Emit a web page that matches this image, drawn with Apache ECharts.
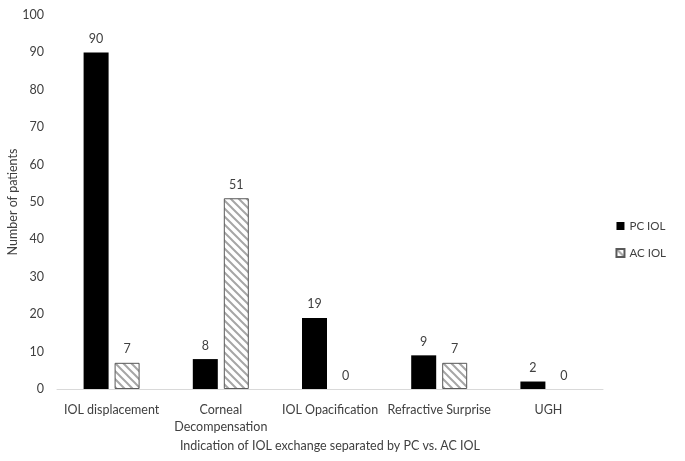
<!DOCTYPE html>
<html>
<head>
<meta charset="utf-8">
<script src="https://cdn.jsdelivr.net/npm/echarts@6/dist/echarts.min.js"></script>
<style>
  html, body { margin: 0; padding: 0; background: #fff; }
  #chart { width: 685px; height: 461px; }
</style>
</head>
<body>
<div id="chart"></div>
<script>
// categories and values
var categories = ['IOL displacement', 'Corneal\nDecompensation', 'IOL Opacification', 'Refractive Surprise', 'UGH'];
var pcIol = [90, 8, 19, 9, 2];
var acIol = [7, 51, 0, 7, 0];
var yTicks = { min: 0, max: 100, interval: 10 };

// diagonal hatch for AC IOL
function hatch() {
  var c = document.createElement('canvas');
  c.width = 8; c.height = 8;
  var ctx = c.getContext('2d');
  ctx.fillStyle = '#fff';
  ctx.fillRect(0, 0, 8, 8);
  ctx.strokeStyle = '#a6a6a6';
  ctx.lineWidth = 2;
  ctx.beginPath();
  ctx.moveTo(-2, -2); ctx.lineTo(10, 10);
  ctx.moveTo(-2, 6); ctx.lineTo(2, 10);
  ctx.moveTo(6, -2); ctx.lineTo(10, 2);
  ctx.stroke();
  return c;
}

// zero bars have no outline in the original
function acData() {
  return acIol.map(function (v) {
    return v === 0 ? { value: v, itemStyle: { borderWidth: 0 } } : v;
  });
}

var font = 'Lato, "Open Sans", sans-serif';
var myChart = echarts.init(document.getElementById('chart'));
var option = {
  backgroundColor: '#fff',
  animation: false,
  textStyle: { fontFamily: font },
  grid: { left: 57, right: 82, top: 15, bottom: 72, outerBoundsMode: 'none', containLabel: false },
  legend: {
    orient: 'vertical',
    right: 14,
    top: 215,
    itemWidth: 8,
    itemHeight: 8,
    itemGap: 15,
    icon: 'rect',
    textStyle: { fontSize: 11.5, color: '#404040', fontFamily: font },
    data: ['PC IOL', 'AC IOL']
  },
  xAxis: {
    type: 'category',
    data: categories,
    name: 'Indication of IOL exchange separated by PC vs. AC IOL',
    nameLocation: 'middle',
    nameGap: 50,
    nameMoveOverlap: false,
    nameTextStyle: { fontSize: 12.5, color: '#404040' },
    axisLine: { lineStyle: { color: '#d9d9d9' } },
    axisTick: { show: false },
    axisLabel: { fontSize: 12.5, color: '#404040', interval: 0, margin: 12, lineHeight: 17 }
  },
  yAxis: {
    type: 'value',
    min: yTicks.min,
    max: yTicks.max,
    interval: yTicks.interval,
    name: 'Number of patients',
    nameLocation: 'middle',
    nameGap: 38,
    nameMoveOverlap: false,
    nameTextStyle: { fontSize: 12.5, color: '#404040' },
    axisLine: { show: false },
    axisTick: { show: false },
    splitLine: { show: false },
    axisLabel: { fontSize: 12.5, color: '#404040', margin: 13 }
  },
  series: [
    {
      name: 'PC IOL',
      type: 'bar',
      data: pcIol,
      barWidth: 25,
      barGap: '24%',
      itemStyle: { color: '#000' },
      label: { show: true, position: 'top', distance: 7, fontSize: 12.5, color: '#404040' }
    },
    {
      name: 'AC IOL',
      type: 'bar',
      data: acData(),
      barWidth: 25,
      itemStyle: {
        color: { image: hatch(), repeat: 'repeat' },
        borderColor: '#595959',
        borderWidth: 1
      },
      label: { show: true, position: 'top', distance: 7, fontSize: 12.5, color: '#404040' }
    }
  ]
};
myChart.setOption(option);
window.addEventListener('resize', function () { myChart.resize(); });
</script>
</body>
</html>
